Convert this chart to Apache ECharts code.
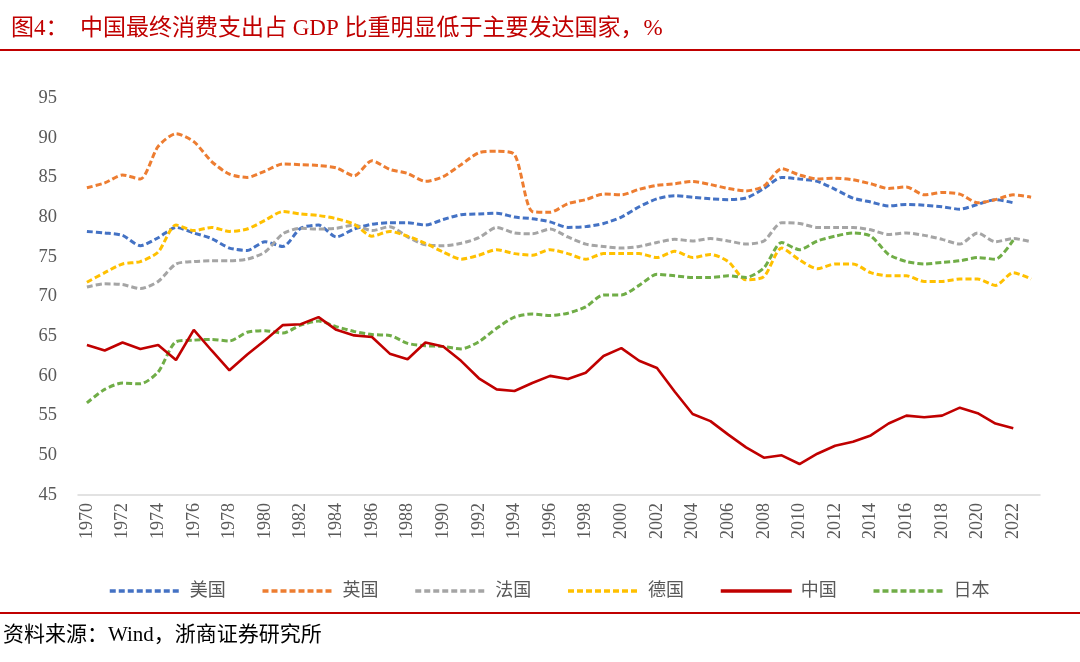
<!DOCTYPE html>
<html><head><meta charset="utf-8">
<script src="https://cdn.jsdelivr.net/npm/echarts@6/dist/echarts.min.js"></script>
<style>html,body{margin:0;padding:0;background:#fff}#c{width:1080px;height:662px}</style>
</head><body><div id="c"></div>
<script>
var years = [];
for (var y = 1970; y <= 2023; y++) years.push(String(y));
var yTicks = [45, 50, 55, 60, 65, 70, 75, 80, 85, 90, 95];
var usa = [78.2,78.0,77.7,76.4,77.4,78.7,78.0,77.3,76.1,75.8,76.9,76.3,78.6,79.0,77.5,78.5,79.1,79.3,79.3,79.0,79.7,80.3,80.4,80.5,80.0,79.8,79.4,78.7,78.8,79.2,80.0,81.3,82.3,82.7,82.5,82.3,82.2,82.4,83.6,85.0,84.8,84.5,83.5,82.4,81.9,81.4,81.6,81.5,81.3,81.0,81.6,82.2,81.8,null];
var uk = [83.7,84.3,85.3,84.8,88.9,90.5,89.5,87.0,85.4,85.0,85.8,86.7,86.6,86.5,86.2,85.2,87.1,86.0,85.5,84.5,85.1,86.6,88.1,88.3,87.9,80.7,80.6,81.7,82.2,82.9,82.8,83.5,84.0,84.2,84.5,84.1,83.6,83.3,83.9,86.1,85.3,84.8,84.9,84.7,84.2,83.6,83.8,82.8,83.1,82.9,81.8,82.2,82.8,82.5];
var france = [71.2,71.6,71.5,71.0,71.9,74.1,74.4,74.5,74.5,74.7,75.6,77.9,78.6,78.5,78.6,79.0,78.3,78.8,77.5,76.5,76.4,76.7,77.4,78.7,78.0,77.9,78.5,77.5,76.6,76.3,76.1,76.3,76.8,77.2,77.0,77.3,77.0,76.6,77.0,79.3,79.2,78.7,78.7,78.7,78.4,77.8,78.0,77.7,77.2,76.6,78.0,76.9,77.3,76.9];
var germany = [71.8,73.0,74.1,74.4,75.6,79.0,78.3,78.7,78.2,78.5,79.6,80.7,80.4,80.2,79.8,79.1,77.6,78.2,77.6,76.7,75.6,74.7,75.2,75.9,75.4,75.2,75.9,75.4,74.7,75.4,75.4,75.4,74.9,75.7,74.9,75.3,74.4,72.1,72.5,76.1,74.6,73.5,74.1,74.1,73.0,72.6,72.6,71.9,71.9,72.2,72.2,71.4,73.0,72.2];
var china = [63.9,63.2,64.2,63.4,63.9,62.0,65.8,63.2,60.7,62.7,64.5,66.4,66.5,67.4,65.8,65.1,64.9,62.8,62.1,64.2,63.7,61.9,59.7,58.3,58.1,59.1,60.0,59.6,60.4,62.5,63.5,61.9,61.0,58.0,55.2,54.3,52.6,51.0,49.7,50.0,48.9,50.2,51.2,51.7,52.5,54.0,55.0,54.8,55.0,56.0,55.3,54.0,53.4,null];
var japan = [56.6,58.3,59.1,59.0,60.5,64.3,64.5,64.6,64.4,65.5,65.7,65.4,66.4,66.9,66.2,65.6,65.2,65.1,64.1,63.8,63.7,63.4,64.3,66.0,67.4,67.8,67.6,67.9,68.7,70.2,70.2,71.4,72.8,72.6,72.4,72.4,72.6,72.4,73.6,76.8,75.9,77.0,77.6,78.0,77.6,75.3,74.4,74.1,74.3,74.5,74.9,74.7,77.1,null];
var names = ['美国','英国','法国','德国','中国','日本'];
var colors = ['#4472C4','#ED7D31','#A5A5A5','#FFC000','#C00000','#70AD47'];
var seriesData = [usa, uk, france, germany, china, japan];

var serif = '"Liberation Serif", "Noto Sans CJK SC", serif';
var chart = echarts.init(document.getElementById('c'));
var series = names.map(function (n, i) {
  var isChina = n === '中国';
  return {
    name: n, type: 'line', data: seriesData[i], symbol: 'none',
    smooth: isChina ? false : 0.25,
    connectNulls: false,
    lineStyle: { color: colors[i], width: isChina ? 2.6 : 3, type: isChina ? 'solid' : [6, 3] },
    itemStyle: { color: colors[i] },
    z: isChina ? 3 : 2
  };
});
chart.setOption({
  animation: false,
  backgroundColor: '#fff',
  title: {
    text: '图4：  中国最终消费支出占 GDP 比重明显低于主要发达国家，%',
    left: 6, top: 12,
    textStyle: { color: '#C00000', fontFamily: serif, fontSize: 23, fontWeight: 'normal' }
  },
  graphic: [
    { type: 'rect', shape: { x: 0, y: 49, width: 1080, height: 2 }, style: { fill: '#C00000' } },
    { type: 'rect', shape: { x: 0, y: 612, width: 1080, height: 2 }, style: { fill: '#C00000' } },
    { type: 'text', left: 3, top: 625, style: { text: '资料来源：Wind，浙商证券研究所', fill: '#000', font: '21px ' + serif } }
  ],
  legend: {
    data: names, top: 577, left: 103,
    itemWidth: 71, itemHeight: 10, itemGap: 35,
    itemStyle: { opacity: 0 },
    lineStyle: { width: 3.5 },
    textStyle: { color: '#595959', fontFamily: serif, fontSize: 18, padding: [0, 0, 0, 4] }
  },
  grid: { left: 78, right: 40, top: 98, bottom: 167, containLabel: false },
  xAxis: {
    type: 'category', data: years, boundaryGap: true,
    axisLine: { lineStyle: { color: '#D9D9D9', width: 1.5 } },
    axisTick: { interval: 1, length: 5, lineStyle: { color: '#D9D9D9' } },
    axisLabel: { interval: 1, rotate: 90, color: '#595959', fontFamily: serif, fontSize: 18, margin: 8 }
  },
  yAxis: {
    type: 'value', min: 45, max: 95, interval: 5,
    axisLine: { show: false }, axisTick: { show: false }, splitLine: { show: false },
    axisLabel: { color: '#595959', fontFamily: serif, fontSize: 18.5, margin: 21,
      formatter: function (v) { return yTicks.indexOf(v) >= 0 ? String(v) : ''; } }
  },
  series: series
});
</script></body></html>
